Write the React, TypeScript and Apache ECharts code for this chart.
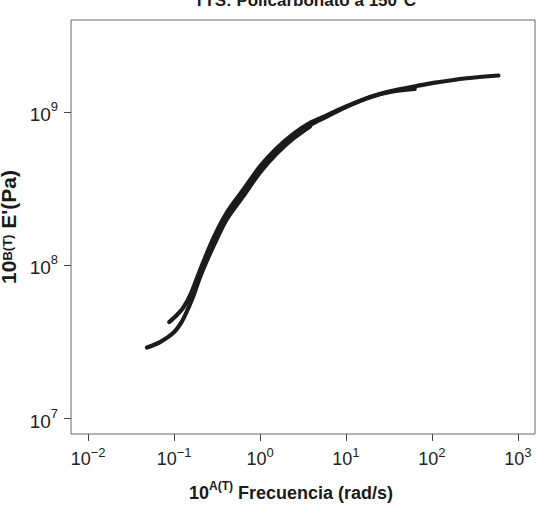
import React, { useEffect, useRef } from "react";
import * as echarts from "echarts";

// Frequency (rad/s) and E' (Pa), three overlapping TTS segments
const seg1Freq = [0.0483, 0.0686, 0.098, 0.123, 0.145, 0.1675, 0.2004, 0.24, 0.2864, 0.409, 0.64, 1.0, 1.563, 2.443, 3.82];
const seg1Mod = [2.91e7, 3.16e7, 3.63e7, 4.3e7, 5.2e7, 6.3e7, 8.4e7, 1.07e8, 1.33e8, 1.99e8, 2.83e8, 4.03e8, 5.35e8, 6.72e8, 8.05e8];

const seg2Freq = [0.0879, 0.107, 0.128, 0.158, 0.2, 0.286, 0.409, 0.64, 1.0, 1.563, 2.443, 3.82, 5.97, 10.2, 19.1, 32.6, 63.1];
const seg2Mod = [4.27e7, 4.73e7, 5.3e7, 6.6e7, 9.3e7, 1.5e8, 2.2e8, 3.12e8, 4.42e8, 5.8e8, 7.2e8, 8.5e8, 9.5e8, 1.09e9, 1.25e9, 1.35e9, 1.413e9];

const seg3Freq = [0.2864, 0.409, 0.64, 1.0, 1.563, 2.443, 3.82, 5.97, 10.2, 19.1, 32.6, 66.7, 104, 255, 594];
const seg3Mod = [1.387e8, 2.07e8, 2.94e8, 4.18e8, 5.51e8, 6.9e8, 8.22e8, 9.33e8, 1.084e9, 1.253e9, 1.365e9, 1.479e9, 1.549e9, 1.66e9, 1.73e9];

const xTicks = [0.01, 0.1, 1, 10, 100, 1000];
const yTicks = [1e7, 1e8, 1e9];

const titleText = "TTS: Policarbonato a 150°C";
const FONT = "'Liberation Sans', Arial, Helvetica, sans-serif";

function pairs(xs: number[], ys: number[]) {
  return xs.map((x, i) => [x, ys[i]]);
}

function expLabel(v: number) {
  const e = Math.round(Math.log10(v));
  const s = e < 0 ? "\u2212" + Math.abs(e) : String(e);
  return "{b|10}{s|" + s + "}";
}

export default function App() {
  const ref = useRef<HTMLDivElement>(null);
  useEffect(() => {
    if (!ref.current) return;
    const chart = echarts.init(ref.current, undefined, { renderer: "svg" });
    const lineStyle = { color: "#1b1b1b", width: 4.2, cap: "round" };
    const mkSeries = (xs: number[], ys: number[]) => ({
      type: "line",
      data: pairs(xs, ys),
      showSymbol: false,
      smooth: 0.3,
      lineStyle,
      silent: true,
    });
    chart.setOption({
      animation: false,
      backgroundColor: "#ffffff",
      textStyle: { fontFamily: FONT },
      graphic: [
        {
          type: "text",
          x: 305,
          y: 0,
          style: {
            text: titleText,
            align: "center",
            verticalAlign: "middle",
            font: "bold 17px " + FONT,
            fill: "#1a1a1a",
          },
        },
      ],
      grid: {
        left: 71,
        right: 9,
        top: 20,
        bottom: 82,
        show: true,
        borderColor: "#666",
        borderWidth: 1,
        outerBoundsMode: "none",
        containLabel: false,
      },
      xAxis: {
        type: "log",
        logBase: 10,
        min: 0.00631,
        max: 1585,
        splitLine: { show: false },
        axisLine: { show: false },
        axisTick: { show: true, length: 7, lineStyle: { color: "#444", width: 1 }, customValues: xTicks },
        axisLabel: {
          customValues: xTicks,
          margin: 12,
          color: "#222",
          formatter: (v: number) => expLabel(v),
          rich: {
            b: { fontSize: 18, fontFamily: FONT, color: "#222", lineHeight: 22, verticalAlign: "bottom" },
            s: { fontSize: 13, fontFamily: FONT, color: "#222", lineHeight: 13, verticalAlign: "top" },
          },
        },
        name: "{b|10}{s|A(T)}{b| Frecuencia (rad/s)}",
        nameLocation: "middle",
        nameGap: 46,
        nameTextStyle: {
          padding: [0, 24, 0, 0],
          rich: {
            b: { fontSize: 18, fontWeight: "bold", fontFamily: FONT, color: "#1a1a1a", lineHeight: 22, verticalAlign: "bottom" },
            s: { fontSize: 12, fontWeight: "bold", fontFamily: FONT, color: "#1a1a1a", lineHeight: 12, verticalAlign: "top" },
          },
        },
      },
      yAxis: {
        type: "log",
        logBase: 10,
        min: 7.943e6,
        max: 3.981e9,
        splitLine: { show: false },
        axisLine: { show: false },
        axisTick: { show: true, length: 7, lineStyle: { color: "#444", width: 1 }, customValues: yTicks },
        axisLabel: {
          customValues: yTicks,
          margin: 13,
          color: "#222",
          formatter: (v: number) => expLabel(v),
          rich: {
            b: { fontSize: 19, fontFamily: FONT, color: "#222", lineHeight: 24, verticalAlign: "bottom" },
            s: { fontSize: 13, fontFamily: FONT, color: "#222", lineHeight: 13, verticalAlign: "top" },
          },
        },
        name: "{b|10}{s|B(T)}{b| E'(Pa)}",
        nameLocation: "middle",
        nameRotate: 90,
        nameGap: 43,
        nameTextStyle: {
          rich: {
            b: { fontSize: 21, fontWeight: "bold", fontFamily: FONT, color: "#1a1a1a", lineHeight: 18, verticalAlign: "bottom" },
            s: { fontSize: 13, fontWeight: "bold", fontFamily: FONT, color: "#1a1a1a", lineHeight: 12, verticalAlign: "top" },
          },
        },
      },
      series: [
        mkSeries(seg1Freq, seg1Mod),
        mkSeries(seg2Freq, seg2Mod),
        mkSeries(seg3Freq, seg3Mod),
      ],
    });
    return () => chart.dispose();
  }, []);
  return (
    <div
      ref={ref}
      style={{ position: "fixed", left: 0, top: 0, width: 544, height: 516 }}
    />
  );
}
